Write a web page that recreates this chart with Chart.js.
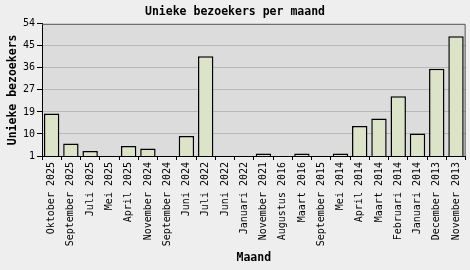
<!DOCTYPE html>
<html>
<head>
<meta charset="utf-8">
<script src="https://cdn.jsdelivr.net/npm/chart.js@4/dist/chart.umd.min.js"></script>
<style>
  html, body { margin: 0; padding: 0; background: #eeeeee; }
  #wrap { width: 470px; height: 270px; }
</style>
</head>
<body>
<div id="wrap"><canvas id="chart" width="470" height="270"></canvas></div>
<script>
// data
const months = [
  'Oktober 2025', 'September 2025', 'Juli 2025', 'Mei 2025', 'April 2025',
  'November 2024', 'September 2024', 'Juni 2024', 'Juli 2022', 'Juni 2022',
  'Januari 2022', 'November 2021', 'Augustus 2016', 'Maart 2016', 'September 2015',
  'Mei 2014', 'April 2014', 'Maart 2014', 'Februari 2014', 'Januari 2014',
  'December 2013', 'November 2013'
]
const visitors = [18, 6, 3, 1, 5, 4, 1, 9, 41, 1, 1, 2, 1, 2, 1, 2, 13, 16, 25, 10, 36, 49]
const yTickLabels = ['1', '10', '19', '27', '36', '45', '54']
const yMin = 1
const yMax = 54

const mono = "'DejaVu Sans Mono', 'Liberation Mono', monospace"

// plot background + dark frame on top/right
const framePlugin = {
  id: 'frame',
  beforeDraw(chart) {
    const { ctx, chartArea: a } = chart
    ctx.save()
    ctx.fillStyle = '#dcdcdc'
    ctx.fillRect(a.left, a.top, a.right - a.left, a.bottom - a.top)
    ctx.restore()
  },
  afterDraw(chart) {
    const { ctx, chartArea: a } = chart
    ctx.save()
    ctx.strokeStyle = '#555555'
    ctx.lineWidth = 1
    ctx.beginPath()
    ctx.moveTo(a.left, a.top + 0.5)
    ctx.lineTo(a.right - 0.5, a.top + 0.5)
    ctx.lineTo(a.right - 0.5, a.bottom)
    ctx.stroke()
    ctx.restore()
  }
}

new Chart(document.getElementById('chart'), {
  type: 'bar',
  data: {
    labels: months,
    datasets: [{
      data: visitors,
      backgroundColor: '#dde3c8',
      borderColor: '#000000',
      borderWidth: 1.5,
      barPercentage: 0.8,
      categoryPercentage: 1.0
    }]
  },
  options: {
    responsive: false,
    animation: false,
    layout: { padding: 0 },
    plugins: {
      legend: { display: false },
      tooltip: { enabled: false },
      title: {
        display: true,
        text: 'Unieke bezoekers per maand',
        color: '#000',
        font: { family: mono, size: 11.5, weight: 'bold' },
        padding: { top: 5, bottom: 5 }
      }
    },
    scales: {
      x: {
        grid: {
          display: true,
          drawOnChartArea: false,
          drawTicks: true,
          tickLength: 4,
          tickColor: '#000'
        },
        border: { display: true, color: '#000', width: 1 },
        ticks: {
          color: '#000',
          font: { family: mono, size: 10 },
          minRotation: 90,
          maxRotation: 90,
          autoSkip: false,
          padding: 2
        },
        title: {
          display: true,
          text: 'Maand',
          color: '#000',
          font: { family: mono, size: 11.5, weight: 'bold' },
          padding: { top: 4, bottom: 5 }
        },
        afterFit(scale) { scale.height = 114 }
      },
      y: {
        min: yMin,
        max: yMax,
        afterBuildTicks(scale) {
          scale.ticks = yTickLabels.map((t, i) => ({ value: yMin + i * (yMax - yMin) / (yTickLabels.length - 1) }))
        },
        grid: {
          color: (c) => (c.index === 0 || c.index === yTickLabels.length - 1) ? 'rgba(0,0,0,0)' : '#b8b8b8',
          tickColor: '#000',
          tickLength: 5,
          lineWidth: 1
        },
        border: { display: true, color: '#000', width: 1 },
        ticks: {
          color: '#000',
          font: { family: mono, size: 10 },
          padding: 2,
          callback: (v, i) => yTickLabels[i]
        },
        title: {
          display: true,
          text: 'Unieke bezoekers',
          color: '#000',
          font: { family: mono, size: 11.5, weight: 'bold' },
          padding: { top: 6, bottom: 4 }
        },
        afterFit(scale) { scale.width = 42 }
      }
    }
  },
  plugins: [framePlugin]
})
</script>
</body>
</html>
